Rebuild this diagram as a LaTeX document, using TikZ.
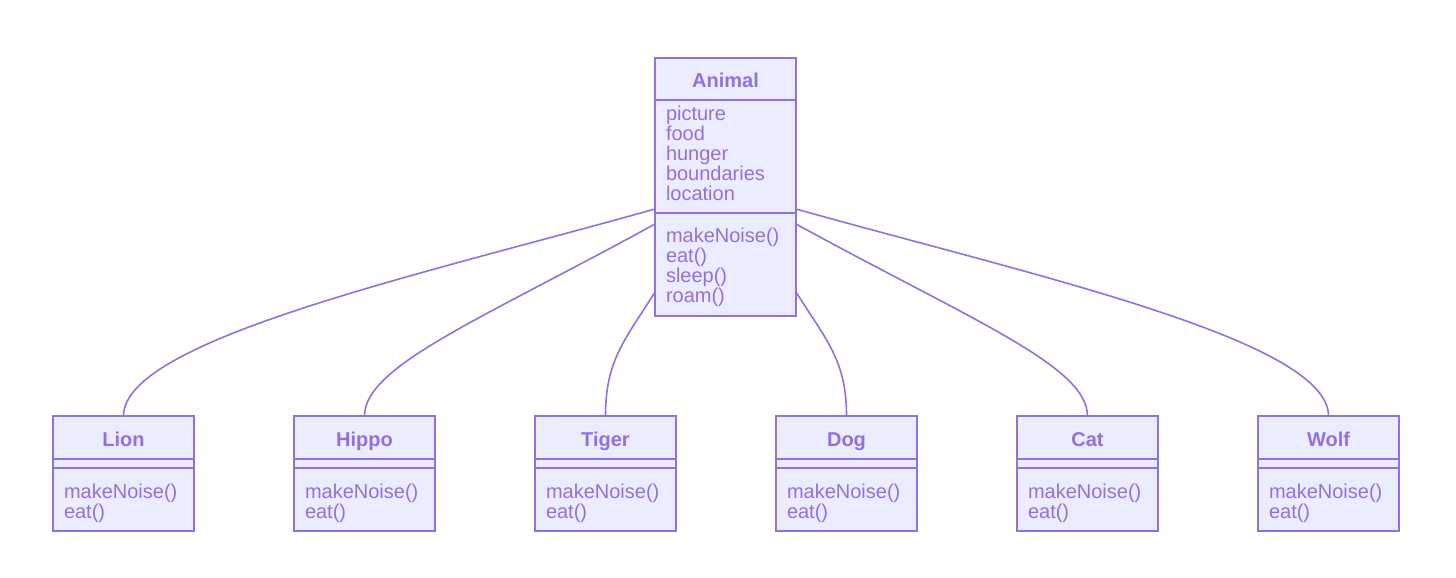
\documentclass[tikz,border=0pt]{standalone}
\usepackage{fontspec}
\setmainfont{Liberation Sans}
\usepackage{tikz}
\definecolor{umlline}{HTML}{9370DB}
\definecolor{umlfill}{HTML}{ECECFF}
\tikzset{
  sect/.style={draw=umlline, fill=umlfill, line width=1.2pt, text=umlline, outer sep=0pt,
    minimum width=105.75pt, inner sep=0pt, font=\fontsize{15pt}{15pt}\selectfont},
  clshead/.style={sect, text height=13pt, text depth=0pt, font=\fontsize{15pt}{15pt}\selectfont\bfseries},
  clsbody/.style={sect, align=left, text width=89.25pt, inner xsep=8.25pt},
  conn/.style={draw=umlline, line width=1.2pt}
}

\begin{document}
\begin{tikzpicture}[x=0.75pt, y=-0.75pt]
\useasboundingbox (0,0) rectangle (1456,578);
\node[clshead, minimum height=31.5pt, anchor=north west] (animalT) at (655,58) {Animal};
\node[clsbody, minimum height=84.75pt, text depth=65pt, anchor=north] (animalA) at (animalT.south)
  {picture\\food\\hunger\\boundaries\\location};
\node[clsbody, minimum height=77.25pt, text depth=43.5pt, anchor=north] (animalM) at (animalA.south)
  {makeNoise()\\eat()\\sleep()\\roam()};
\foreach \nm/\lbl [count=\i from 0] in {lion/Lion, hippo/Hippo, tiger/Tiger, dog/Dog, cat/Cat, wolf/Wolf} {
  \node[clshead, minimum height=32.25pt, anchor=north west] (\nm) at ({53+241*\i},416) {\lbl};
  \node[sect, minimum height=6.75pt, anchor=north] (\nm-e) at (\nm.south) {};
  \node[clsbody, minimum height=47.25pt, text depth=13pt, anchor=north] (\nm-m) at (\nm-e.south) {makeNoise()\\eat()};
}
\draw[conn] ([yshift=3pt]animalA.south west) .. controls +(-235,66) and +(0,-76) .. (lion.north);
\draw[conn] ([yshift=-8.25pt]animalM.north west) .. controls +(-175,96) and +(0,-50) .. (hippo.north);
\draw[conn] ([yshift=-59.25pt]animalM.north west) .. controls +(-30,48) and +(0,-56) .. (tiger.north);
\draw[conn] ([yshift=-59.25pt]animalM.north east) .. controls +(30,48) and +(0,-56) .. (dog.north);
\draw[conn] ([yshift=-8.25pt]animalM.north east) .. controls +(175,96) and +(0,-50) .. (cat.north);
\draw[conn] ([yshift=3pt]animalA.south east) .. controls +(235,66) and +(0,-76) .. (wolf.north);
\end{tikzpicture}
\end{document}
